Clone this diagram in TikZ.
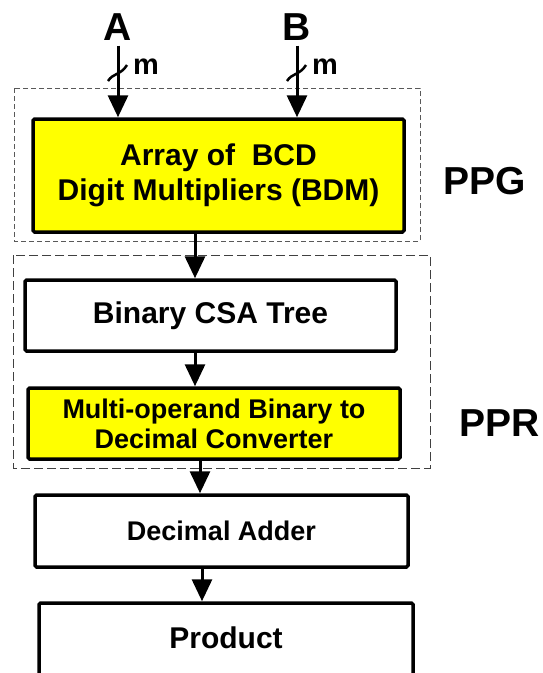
\documentclass[tikz,border=0pt]{standalone}
\usepackage{fontspec}
\setmainfont{Liberation Sans}
\usetikzlibrary{arrows.meta}
\definecolor{boxyellow}{RGB}{255,255,0}
\tikzset{
  blockbox/.style={draw=black, line width=3.5pt, rounded corners=1.5pt, inner sep=0pt,
    align=center, font=\bfseries\fontsize{30}{35}\selectfont},
  smallblock/.style={blockbox, font=\bfseries\fontsize{27}{30}\selectfont},
  blocktext/.style={inner sep=0pt, font=\bfseries\fontsize{30}{35}\selectfont},
  flow/.style={line width=3pt, -{Triangle[length=22pt,width=20pt]}},
  biglabel/.style={font=\bfseries\fontsize{39}{40}\selectfont, inner sep=0pt},
  buslabel/.style={font=\bfseries\fontsize{29}{30}\selectfont, inner sep=0pt},
  busslash/.style={line width=2.5pt},
  ppgframe/.style={draw=black!65, line width=1pt, dash pattern=on 5pt off 3pt},
  pprframe/.style={draw=black!75, line width=1pt, dash pattern=on 9pt off 4pt}
}
\begin{document}
\begin{tikzpicture}[x=1pt,y=-1pt]
  \useasboundingbox (0,0) rectangle (542,673);
  \clip (0,0) rectangle (542,673);

  % stage frames
  \draw[ppgframe] (14,88) rectangle (420,241);
  \draw[pprframe] (13,255) rectangle (430,468);
  \node[biglabel] (ppg) at (485,181) {PPG};
  \node[biglabel] (ppr) at (500,423) {PPR};

  % blocks
  \node[blockbox, fill=boxyellow, minimum width=371pt, minimum height=113pt] (bdm) at (218.5,175.5)
    {Array of\ \ BCD\\Digit Multipliers (BDM)};
  \node[blockbox, fill=white, minimum width=371pt, minimum height=71pt] (csa) at (210.5,315.5)
    {Binary CSA Tree};
  \node[smallblock, fill=boxyellow, minimum width=372pt, minimum height=71pt] (conv) at (214,423.5)
    {Multi-operand Binary to\\Decimal Converter};
  \node[smallblock, fill=white, minimum width=373pt, minimum height=72pt] (adder) at (221.5,531)
    {Decimal Adder};
  \node[blockbox, fill=white, minimum width=374pt, minimum height=84pt] (prod) at (226,645) {};
  \node[blocktext] (prodtext) at (226,638) {Product};

  % operand inputs
  \node[biglabel] (A) at (118,27) {A};
  \node[biglabel] (B) at (297,27) {B};
  \draw[flow] (A.south) ++(0,5) -- (bdm.north -| A.south);
  \draw[flow] (B.south) ++(0,5) -- (bdm.north -| B.south);
  \draw[busslash] (108,81) .. controls (113,73) and (121,75) .. (127,65);
  \draw[busslash] (287,81) .. controls (292,73) and (300,75) .. (306,65);
  \node[buslabel] (mA) at (146,67) {m};
  \node[buslabel] (mB) at (325,67) {m};

  % data path
  \draw[flow] (bdm.south -| 195,0) -- (csa.north -| 195,0);
  \draw[flow] (csa.south -| 195,0) -- (conv.north -| 195,0);
  \draw[flow] (conv.south -| 200,0) -- (adder.north -| 200,0);
  \draw[flow] (adder.south -| 202,0) -- (prod.north -| 202,0);
\end{tikzpicture}
\end{document}
